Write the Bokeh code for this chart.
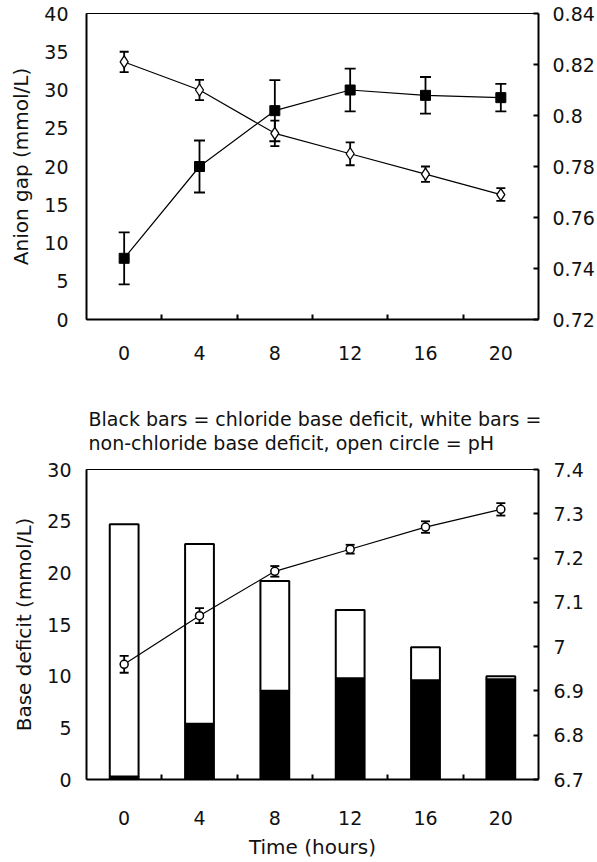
from bokeh.plotting import figure
from bokeh.models import (Range1d, LinearAxis, FixedTicker, ColumnDataSource,
                          Whisker, TeeHead, Title)
from bokeh.layouts import column
from bokeh.embed import file_html
from bokeh.resources import INLINE

# ---------------- data ----------------
hours = [0, 4, 8, 12, 16, 20]
hour_boundaries = [2, 6, 10, 14, 18]

# top panel
anion_gap = [8.0, 20.0, 27.3, 30.0, 29.3, 29.0]          # filled squares, left axis
anion_gap_err = [3.4, 3.4, 4.0, 2.8, 2.4, 1.8]
ratio = [0.821, 0.810, 0.793, 0.785, 0.777, 0.769]        # open diamonds, right axis
ratio_err = [0.004, 0.004, 0.005, 0.0045, 0.003, 0.0025]

# bottom panel
chloride_bd = [0.3, 5.4, 8.6, 9.8, 9.6, 9.7]              # black bars
nonchloride_bd = [24.4, 17.4, 10.6, 6.6, 3.2, 0.3]        # white bars
ph = [6.96, 7.07, 7.17, 7.22, 7.27, 7.31]                 # open circles, right axis
ph_err = [0.019, 0.017, 0.012, 0.010, 0.013, 0.014]

ag_ticks = [0, 5, 10, 15, 20, 25, 30, 35, 40]
ratio_ticks = [0.72, 0.74, 0.76, 0.78, 0.80, 0.82, 0.84]
ratio_tick_labels = ["0.72", "0.74", "0.76", "0.78", "0.8", "0.82", "0.84"]
bd_ticks = [0, 5, 10, 15, 20, 25, 30]
ph_ticks = [6.7, 6.8, 6.9, 7.0, 7.1, 7.2, 7.3, 7.4]
ph_tick_labels = ["6.7", "6.8", "6.9", "7", "7.1", "7.2", "7.3", "7.4"]

title_line1 = "Black bars = chloride base deficit, white bars ="
title_line2 = "non-chloride base deficit, open circle = pH"

FONT = "DejaVu Sans"
FS = "19px"
LFS = "20px"
TXT = "#111111"


def style_common(p):
    p.xgrid.visible = False
    p.ygrid.visible = False
    p.outline_line_color = "black"
    p.outline_line_width = 1
    p.background_fill_color = "white"
    p.border_fill_color = "white"


def style_axis(ax):
    ax.axis_line_color = "black"
    ax.axis_line_width = 2
    ax.major_label_text_font = FONT
    ax.major_label_text_font_size = FS
    ax.major_label_text_color = TXT
    ax.axis_label_text_font = FONT
    ax.axis_label_text_font_size = LFS
    ax.axis_label_text_font_style = "normal"
    ax.axis_label_text_color = TXT


def style_x(ax, standoff):
    style_axis(ax)
    ax.ticker = FixedTicker(ticks=hours, minor_ticks=hour_boundaries)
    ax.major_tick_line_color = None
    ax.major_tick_in = 0
    ax.major_tick_out = 0
    ax.minor_tick_line_color = "black"
    ax.minor_tick_line_width = 2
    ax.minor_tick_in = 5
    ax.minor_tick_out = 0
    ax.major_label_standoff = standoff


def style_left(ax, ticks, standoff):
    style_axis(ax)
    ax.ticker = FixedTicker(ticks=ticks)
    ax.major_tick_line_color = None
    ax.major_tick_in = 0
    ax.major_tick_out = 0
    ax.minor_tick_line_color = None
    ax.major_label_standoff = standoff


def style_right(ax, ticks, labels, standoff):
    style_axis(ax)
    ax.ticker = FixedTicker(ticks=ticks)
    ax.major_label_overrides = {t: l for t, l in zip(ticks, labels)}
    ax.major_tick_line_color = "black"
    ax.major_tick_line_width = 2
    ax.major_tick_in = 5
    ax.major_tick_out = 0
    ax.minor_tick_line_color = None
    ax.major_label_standoff = standoff


def whisker(src, cap, range_name=None):
    kw = dict(source=src, base="x", upper="up", lower="lo", level="annotation",
              line_color="black", line_width=1.8,
              upper_head=TeeHead(size=cap, line_width=1.8, line_color="black"),
              lower_head=TeeHead(size=cap, line_width=1.8, line_color="black"))
    if range_name:
        kw["y_range_name"] = range_name
    return Whisker(**kw)


# ---------------- top panel ----------------
p1 = figure(width=597, height=364, x_range=Range1d(-2, 22), y_range=Range1d(0, 40),
            output_backend="svg", toolbar_location=None,
            min_border_left=86, min_border_right=58, min_border_top=13, min_border_bottom=45)
p1.extra_y_ranges = {"ratio": Range1d(0.72, 0.84)}
style_common(p1)
style_x(p1.xaxis[0], 26)
style_left(p1.yaxis[0], ag_ticks, 18)
p1.yaxis[0].axis_label = "Anion gap (mmol/L)"
p1.yaxis[0].axis_label_standoff = 8
r1 = LinearAxis(y_range_name="ratio")
style_right(r1, ratio_ticks, ratio_tick_labels, 14)
p1.add_layout(r1, "right")

src_ag = ColumnDataSource(dict(x=hours, y=anion_gap,
                               lo=[v - e for v, e in zip(anion_gap, anion_gap_err)],
                               up=[v + e for v, e in zip(anion_gap, anion_gap_err)]))
src_ra = ColumnDataSource(dict(x=hours, y=ratio,
                               lo=[v - e for v, e in zip(ratio, ratio_err)],
                               up=[v + e for v, e in zip(ratio, ratio_err)]))

p1.line("x", "y", source=src_ag, line_color="black", line_width=1.2)
p1.line("x", "y", source=src_ra, y_range_name="ratio", line_color="black", line_width=1.2)
p1.add_layout(whisker(src_ag, 11))
p1.add_layout(whisker(src_ra, 9, "ratio"))
m1 = p1.scatter("x", "y", source=src_ag, marker="square", size=10,
                fill_color="black", line_color="black")
m2 = p1.scatter("x", "y", source=src_ra, y_range_name="ratio", marker="diamond", size=12,
                fill_color="white", line_color="black", line_width=1.3)
m1.level = "overlay"
m2.level = "overlay"

# ---------------- bottom panel ----------------
p2 = figure(width=597, height=498, x_range=Range1d(-2, 22), y_range=Range1d(0, 30),
            output_backend="svg", toolbar_location=None,
            min_border_left=82, min_border_right=59, min_border_top=105, min_border_bottom=83)
p2.extra_y_ranges = {"ph": Range1d(6.7, 7.4)}
style_common(p2)
style_x(p2.xaxis[0], 31)
p2.xaxis[0].axis_label = "Time (hours)"
p2.xaxis[0].axis_label_standoff = 7
style_left(p2.yaxis[0], bd_ticks, 15)
p2.yaxis[0].axis_label = "Base deficit (mmol/L)"
p2.yaxis[0].axis_label_standoff = 8
r2 = LinearAxis(y_range_name="ph")
style_right(r2, ph_ticks, ph_tick_labels, 15)
p2.add_layout(r2, "right")

p2.add_layout(Title(text=title_line1 + "\n" + title_line2, align="left", offset=2,
                    standoff=31, text_line_height=1.08,
                    text_font=FONT, text_font_size="19px", text_font_style="normal",
                    text_color=TXT), "above")

bar_src = ColumnDataSource(dict(x=hours, chloride=chloride_bd, nonchloride=nonchloride_bd))
p2.vbar_stack(["chloride", "nonchloride"], x="x", width=1.53, source=bar_src,
              fill_color=["black", "white"], line_color="black", line_width=2)

src_ph = ColumnDataSource(dict(x=hours, y=ph,
                               lo=[v - e for v, e in zip(ph, ph_err)],
                               up=[v + e for v, e in zip(ph, ph_err)]))
ln = p2.line("x", "y", source=src_ph, y_range_name="ph", line_color="black", line_width=1.2)
ln.level = "annotation"
p2.add_layout(whisker(src_ph, 9, "ph"))
m3 = p2.scatter("x", "y", source=src_ph, y_range_name="ph", marker="circle", size=8,
                fill_color="white", line_color="black", line_width=1.5)
m3.level = "overlay"

layout = column(p1, p2)
open("out.html", "w").write(file_html(layout, INLINE))
